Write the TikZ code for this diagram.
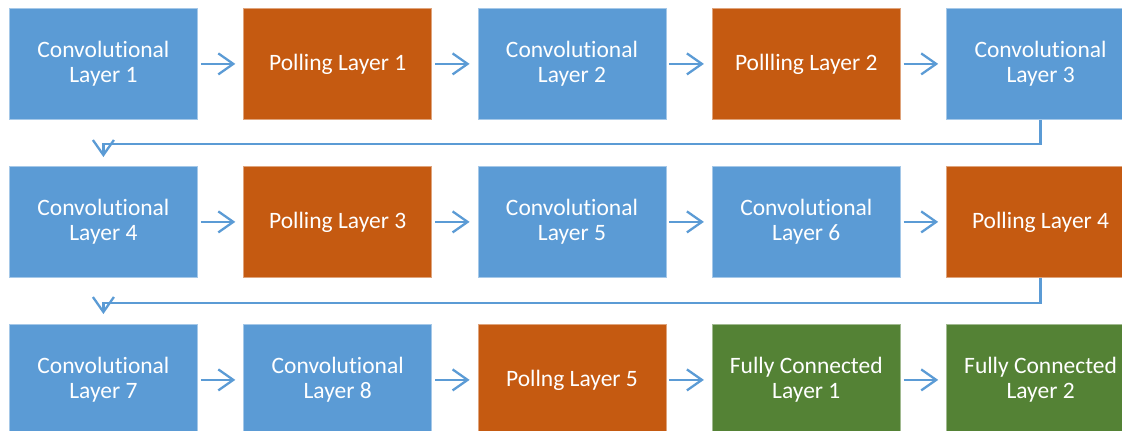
\documentclass[tikz,border=0pt]{standalone}
\usepackage{fontspec}
\setmainfont{Carlito}[Ligatures={NoCommon}]
\usetikzlibrary{arrows.meta}
\definecolor{cblue}{HTML}{5B9BD5}
\definecolor{corange}{HTML}{C55A11}
\definecolor{cgreen}{HTML}{548235}
\begin{document}
\begin{tikzpicture}[x=1pt,y=-1pt,
  box/.style={minimum width=188pt, minimum height=111pt, inner sep=0pt,
    text=white, font=\fontsize{23.5}{25.5}\selectfont, align=center,
    anchor=north west, fill=#1, draw=#1!55!white, line width=0.8pt},
  conn/.style={draw=cblue, line width=2.3pt,
    -{Straight Barb[length=15pt,width=21pt]}},
  hconn/.style={conn, shorten <=3pt, shorten >=8pt}]
\useasboundingbox (0,0) rectangle (1122,431);
% row 1
\node[box=cblue]   (a1) at (9,8)     {Convolutional\\Layer 1};
\node[box=corange] (a2) at (243.3,8) {Polling Layer 1};
\node[box=cblue]   (a3) at (477.6,8) {Convolutional\\Layer 2};
\node[box=corange] (a4) at (711.9,8) {Pollling Layer 2};
\node[box=cblue]   (a5) at (946.2,8) {Convolutional\\Layer 3};
% row 2
\node[box=cblue]   (b1) at (9,166)     {Convolutional\\Layer 4};
\node[box=corange] (b2) at (243.3,166) {Polling Layer 3};
\node[box=cblue]   (b3) at (477.6,166) {Convolutional\\Layer 5};
\node[box=cblue]   (b4) at (711.9,166) {Convolutional\\Layer 6};
\node[box=corange] (b5) at (946.2,166) {Polling Layer 4};
% row 3
\node[box=cblue]   (c1) at (9,324)     {Convolutional\\Layer 7};
\node[box=cblue]   (c2) at (243.3,324) {Convolutional\\Layer 8};
\node[box=corange] (c3) at (477.6,324) {Pollng Layer 5};
\node[box=cgreen]  (c4) at (711.9,324) {Fully Connected\\Layer 1};
\node[box=cgreen]  (c5) at (946.2,324) {Fully Connected\\Layer 2};
% horizontal connectors
\foreach \r in {a,b,c}{
  \draw[hconn] (\r1) -- (\r2);
  \draw[hconn] (\r2) -- (\r3);
  \draw[hconn] (\r3) -- (\r4);
  \draw[hconn] (\r4) -- (\r5);
}
% return connectors
\draw[conn, line join=miter] (a5.south) -- ++(0,24) -| ([yshift=9pt]b1.north);
\draw[conn, line join=miter] (b5.south) -- ++(0,25) -| ([yshift=10pt]c1.north);
\end{tikzpicture}
\end{document}
